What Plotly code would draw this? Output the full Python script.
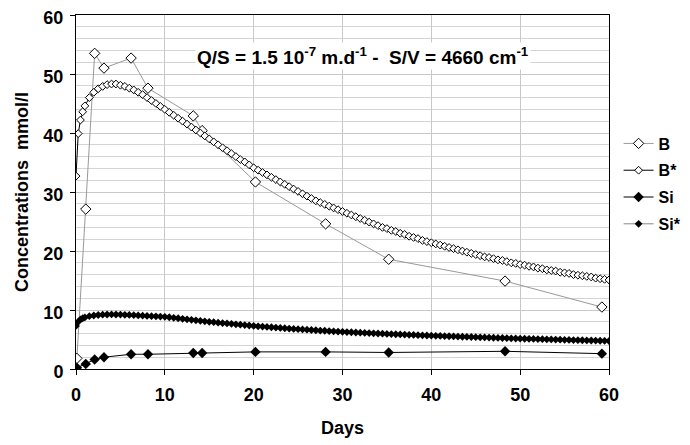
import plotly.graph_objects as go

# Measured data
days_meas = [0.1, 1.1, 2.1, 3.15, 6.2, 8.1, 13.2, 14.2, 20.2, 28.1, 35.2, 48.3, 59.2]
B_meas = [1.8, 27.1, 53.5, 51.0, 52.7, 47.6, 42.9, 40.4, 31.7, 24.6, 18.6, 14.9, 10.5]
Si_meas = [0.2, 0.85, 1.6, 2.0, 2.5, 2.5, 2.7, 2.7, 2.9, 2.9, 2.8, 3.0, 2.6]

# Model data
days_model = [0, 0.25, 0.5, 0.75, 1, 1.5, 2, 2.5, 3, 3.5, 4, 4.5, 5, 5.5, 6, 6.5, 7, 7.5, 8, 8.5,
              9, 9.5, 10, 10.5, 11, 11.5, 12, 12.5, 13, 13.5, 14, 14.5, 15, 15.5, 16, 16.5,
              17, 17.5, 18, 18.5, 19, 19.5, 20, 20.5, 21, 21.5, 22, 22.5, 23, 23.5, 24, 24.5,
              25, 25.5, 26, 26.5, 27, 27.5, 28, 28.5, 29, 29.5, 30, 30.5, 31, 31.5, 32, 32.5,
              33, 33.5, 34, 34.5, 35, 35.5, 36, 36.5, 37, 37.5, 38, 38.5, 39, 39.5, 40, 40.5,
              41, 41.5, 42, 42.5, 43, 43.5, 44, 44.5, 45, 45.5, 46, 46.5, 47, 47.5, 48, 48.5,
              49, 49.5, 50, 50.5, 51, 51.5, 52, 52.5, 53, 53.5, 54, 54.5, 55, 55.5, 56, 56.5,
              57, 57.5, 58, 58.5, 59, 59.5, 60]
B_model = [32.7, 39.9, 42.2, 43.6, 44.6, 46.0, 46.9, 47.5, 47.9, 48.2, 48.3, 48.3, 48.1, 47.9,
           47.6, 47.3, 46.9, 46.5, 46.0, 45.5, 45.0, 44.5, 44.0, 43.5, 43.0, 42.5, 42.0, 41.5,
           41.0, 40.5, 40.0, 39.5, 39.0, 38.5, 38.0, 37.5, 37.0, 36.5, 36.0, 35.5, 35.1, 34.6,
           34.1, 33.7, 33.3, 32.9, 32.5, 32.1, 31.7, 31.3, 30.9, 30.5, 30.1, 29.7, 29.3, 28.9,
           28.5, 28.2, 27.9, 27.6, 27.3, 27.0, 26.7, 26.4, 26.1, 25.8, 25.5, 25.2, 24.9, 24.6,
           24.3, 24.0, 23.8, 23.5, 23.3, 23.0, 22.8, 22.5, 22.3, 22.1, 21.8, 21.6, 21.4, 21.2,
           21.0, 20.8, 20.6, 20.4, 20.2, 20.0, 19.8, 19.6, 19.4, 19.2, 19.0, 18.9, 18.7, 18.5,
           18.4, 18.2, 18.0, 17.9, 17.7, 17.6, 17.4, 17.3, 17.1, 17.0, 16.8, 16.7, 16.6, 16.4,
           16.3, 16.2, 16.0, 15.9, 15.8, 15.7, 15.6, 15.4, 15.3, 15.2, 15.1]
Si_model = [7.3, 8.0, 8.4, 8.6, 8.75, 8.95, 9.07, 9.15, 9.2, 9.24, 9.25, 9.24, 9.22, 9.19,
            9.16, 9.12, 9.08, 9.04, 9.0, 8.96, 8.92, 8.89, 8.85, 8.77, 8.68, 8.6, 8.51, 8.42,
            8.34, 8.25, 8.17, 8.08, 8.0, 7.93, 7.86, 7.79, 7.72, 7.65, 7.58, 7.51, 7.44, 7.37,
            7.3, 7.24, 7.19, 7.13, 7.08, 7.02, 6.97, 6.91, 6.86, 6.8, 6.75, 6.7, 6.66, 6.61,
            6.57, 6.52, 6.48, 6.43, 6.39, 6.34, 6.3, 6.26, 6.23, 6.19, 6.16, 6.12, 6.09, 6.05,
            6.02, 5.98, 5.95, 5.92, 5.89, 5.86, 5.83, 5.8, 5.77, 5.74, 5.71, 5.68, 5.65, 5.62,
            5.6, 5.57, 5.55, 5.52, 5.5, 5.47, 5.45, 5.42, 5.4, 5.37, 5.35, 5.32, 5.3, 5.27,
            5.25, 5.22, 5.2, 5.17, 5.15, 5.13, 5.11, 5.09, 5.07, 5.05, 5.03, 5.01, 4.99, 4.97,
            4.95, 4.93, 4.91, 4.89, 4.87, 4.85, 4.83, 4.81, 4.79, 4.77, 4.75]

x_ticks = [0, 10, 20, 30, 40, 50, 60]
y_ticks = [0, 10, 20, 30, 40, 50, 60]

FONT = "Arial, Liberation Sans, sans-serif"

fig = go.Figure()
fig.add_trace(go.Scatter(
    x=days_meas, y=B_meas, name="B", mode="lines+markers", legendgroup="a",
    line=dict(color="#999999", width=1),
    marker=dict(symbol="diamond", size=8, color="white", line=dict(color="black", width=1))))
fig.add_trace(go.Scatter(
    x=days_model, y=B_model, name="B*", mode="lines+markers", legendgroup="b",
    line=dict(color="black", width=1),
    marker=dict(symbol="diamond", size=6, color="white", line=dict(color="black", width=1))))
fig.add_trace(go.Scatter(
    x=days_meas, y=Si_meas, name="Si", mode="lines+markers", legendgroup="c",
    line=dict(color="black", width=1),
    marker=dict(symbol="diamond", size=8, color="black")))
fig.add_trace(go.Scatter(
    x=days_model, y=Si_model, name="Si*", mode="lines+markers", legendgroup="d",
    line=dict(color="#888888", width=1),
    marker=dict(symbol="diamond", size=6, color="black")))

fig.add_annotation(
    x=0.538, y=0.885, xref="paper", yref="paper", xanchor="center", yanchor="middle",
    text="Q/S = 1.5 10<sup>-7</sup> m.d<sup>-1</sup> -  S/V = 4660 cm<sup>-1</sup>",
    showarrow=False, bgcolor="white",
    font=dict(family=FONT, size=19, color="black", weight="bold"))

fig.update_layout(
    width=682, height=437,
    margin=dict(l=68, r=81, t=7, b=76, autoexpand=False),
    paper_bgcolor="white", plot_bgcolor="white",
    font=dict(family=FONT, size=18, color="black", weight="bold"),
    showlegend=True,
    legend=dict(x=1.018, y=0.685, xanchor="left", yanchor="top",
                font=dict(family=FONT, size=16, color="black", weight="bold"),
                tracegroupgap=3, itemwidth=30, bgcolor="rgba(0,0,0,0)"),
    xaxis=dict(range=[0, 60], tickvals=x_ticks, automargin=False,
               tickfont=dict(family=FONT, size=18, weight="bold"),
               ticklabelstandoff=4, ticklabeloverflow="allow",
               showgrid=True, gridcolor="#c8c8c8", gridwidth=1,
               showline=True, linecolor="black", linewidth=1, mirror=True,
               ticks="outside", ticklen=5, tickcolor="black", zeroline=False,
               title=dict(text="Days", font=dict(size=18, weight="bold"), standoff=17)),
    yaxis=dict(range=[0, 60], tickvals=y_ticks, automargin=False,
               tickfont=dict(family=FONT, size=18, weight="bold"),
               ticklabelstandoff=3, ticklabeloverflow="allow", ticklabelshift=3,
               showgrid=True, gridcolor="#c8c8c8", gridwidth=1,
               minor=dict(dtick=2, showgrid=True, gridcolor="#d4d4d4", gridwidth=1),
               showline=True, linecolor="black", linewidth=1, mirror=True,
               ticks="outside", ticklen=5, tickcolor="black", zeroline=False,
               title=dict(text="Concentrations  mmol/l", font=dict(size=18, weight="bold"),
                          standoff=10)),
)

fig.write_html("out.html")
